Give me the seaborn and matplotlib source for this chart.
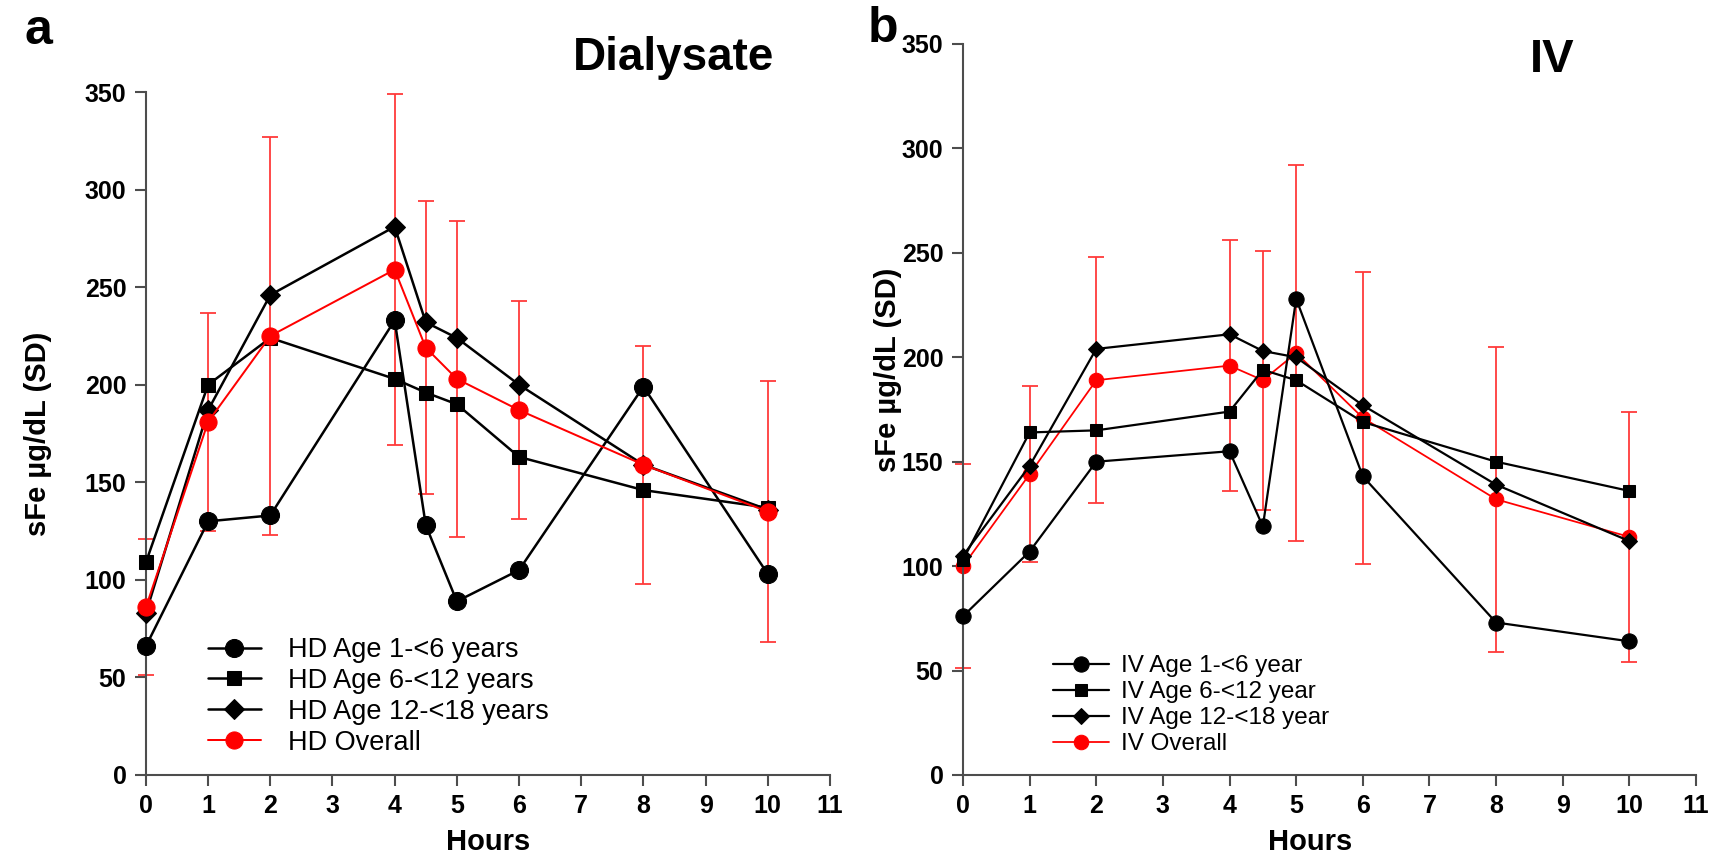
import matplotlib
matplotlib.use("Agg")
import matplotlib.pyplot as plt
import seaborn as sns
import numpy as np
import pandas as pd

# ---- data -------------------------------------------------------------
hours = [0, 1, 2, 4, 4.5, 5, 6, 8, 10]

# Dialysate (HD) serum iron, µg/dL
hd_age1_6 = [66, 130, 133, 233, 128, 89, 105, 199, 103]
hd_age6_12 = [109, 200, 224, 203, 196, 190, 163, 146, 137]
hd_age12_18 = [83, 187, 246, 281, 232, 224, 200, 159, 136]
hd_overall = [86, 181, 225, 259, 219, 203, 187, 159, 135]
hd_overall_sd = [35, 56, 102, 90, 75, 81, 56, 61, 67]

# Intravenous (IV) serum iron, µg/dL
iv_age1_6 = [76, 107, 150, 155, 119, 228, 143, 73, 64]
iv_age6_12 = [103, 164, 165, 174, 194, 189, 169, 150, 136]
iv_age12_18 = [105, 148, 204, 211, 203, 200, 177, 139, 112]
iv_overall = [100, 144, 189, 196, 189, 202, 171, 132, 114]
iv_overall_sd = [49, 42, 59, 60, 62, 90, 70, 73, 60]

hd_labels = ["HD Age 1-<6 years", "HD Age 6-<12 years",
             "HD Age 12-<18 years", "HD Overall"]
iv_labels = ["IV Age 1-<6 year", "IV Age 6-<12 year",
             "IV Age 12-<18 year", "IV Overall"]

x_ticks = list(range(0, 12))
y_ticks = list(range(0, 351, 50))

# ---- style ------------------------------------------------------------
sns.set_style("ticks")
plt.rcParams["font.family"] = ["Liberation Sans", "DejaVu Sans"]
plt.rcParams["text.color"] = "black"
plt.rcParams["axes.labelcolor"] = "black"
plt.rcParams["xtick.labelcolor"] = "black"
plt.rcParams["ytick.labelcolor"] = "black"

SPINE = "#4d4d4d"
RED = "#ff0000"
ERR = "#ff3a3a"

fig = plt.figure(figsize=(17.19, 8.57), dpi=100)
ax_a = fig.add_axes([0.0849, 0.0957, 0.3979, 0.7969])
ax_b = fig.add_axes([0.5602, 0.0957, 0.4264, 0.8530])


def draw_panel(ax, groups, overall, sd, labels, msize, lw, red_on_top,
               leg_anchor, leg_font, leg_hlen, leg_pad, leg_space):
    z_red = 4 if red_on_top else 2
    # SD bars for the overall mean
    eb = ax.errorbar(hours, overall, yerr=sd, fmt="none", ecolor=ERR,
                     elinewidth=1.3, capsize=6, capthick=1.3, zorder=1)
    for art in eb.lines[1] + eb.lines[2]:
        art.set_clip_on(False)

    shapes = ["o", "s", "D"]
    sizes = [msize, msize * 0.82, msize * 0.78]
    for vals, shape, ms, lab in zip(groups, shapes, sizes, labels[:3]):
        df = pd.DataFrame({"Hours": hours, "sFe": vals})
        sns.lineplot(data=df, x="Hours", y="sFe", ax=ax, color="black",
                     marker=shape, markersize=ms, markeredgecolor="black",
                     markerfacecolor="black", linewidth=lw, label=lab,
                     clip_on=False, zorder=3)
    df = pd.DataFrame({"Hours": hours, "sFe": overall})
    sns.lineplot(data=df, x="Hours", y="sFe", ax=ax, color=RED,
                 marker="o", markersize=msize * 0.95, markeredgecolor=RED,
                 markerfacecolor=RED, linewidth=lw * 0.8, label=labels[3],
                 clip_on=False, zorder=z_red)

    ax.set_xlim(0, 11)
    ax.set_ylim(0, 350)
    ax.set_xticks(x_ticks)
    ax.set_yticks(y_ticks)
    sns.despine(ax=ax)
    for side in ("left", "bottom"):
        ax.spines[side].set_color(SPINE)
        ax.spines[side].set_linewidth(1.5)
    ax.tick_params(axis="both", direction="out", length=8, width=1.5,
                   color=SPINE, labelcolor="black", labelsize=18, pad=6)
    for t in ax.get_xticklabels() + ax.get_yticklabels():
        t.set_fontweight("bold")
    ax.set_xlabel("Hours", fontsize=21, fontweight="bold", color="black")
    ax.set_ylabel("sFe µg/dL (SD)", fontsize=21, fontweight="bold",
                  color="black")

    handles, labs = ax.get_legend_handles_labels()
    leg = ax.legend(handles, labs, loc="upper left", bbox_to_anchor=leg_anchor,
                    bbox_transform=fig.transFigure, frameon=False,
                    fontsize=leg_font, handlelength=leg_hlen,
                    handletextpad=leg_pad, labelspacing=leg_space,
                    borderpad=0, borderaxespad=0)
    for t in leg.get_texts():
        t.set_color("black")


draw_panel(ax_a, [hd_age1_6, hd_age6_12, hd_age12_18], hd_overall,
           hd_overall_sd, hd_labels, msize=13, lw=1.8, red_on_top=True,
           leg_anchor=(208 / 1719, 1 - 637 / 857), leg_font=19.5,
           leg_hlen=1.95, leg_pad=1.0, leg_space=0.18)
draw_panel(ax_b, [iv_age1_6, iv_age6_12, iv_age12_18], iv_overall,
           iv_overall_sd, iv_labels, msize=11, lw=1.6, red_on_top=False,
           leg_anchor=(1053 / 1719, 1 - 655 / 857), leg_font=17.5,
           leg_hlen=2.3, leg_pad=0.5, leg_space=0.17)

ax_a.yaxis.set_label_coords(-0.137, 0.5)
ax_a.xaxis.set_label_coords(0.5, -0.078)
ax_b.yaxis.set_label_coords(-0.083, 0.554)
ax_b.xaxis.set_label_coords(0.473, -0.073)

# panel letters and titles
fig.text(24 / 1719, 1 - 44 / 857, "a", fontsize=36, fontweight="bold",
         ha="left", va="baseline")
fig.text(868 / 1719, 1 - 42 / 857, "b", fontsize=36, fontweight="bold",
         ha="left", va="baseline")
fig.text(674 / 1719, 1 - 70 / 857, "Dialysate", fontsize=33,
         fontweight="bold", ha="center", va="baseline")
fig.text(1552 / 1719, 1 - 72 / 857, "IV", fontsize=34, fontweight="bold",
         ha="center", va="baseline")

fig.savefig("out.png", dpi=100, facecolor="white")
